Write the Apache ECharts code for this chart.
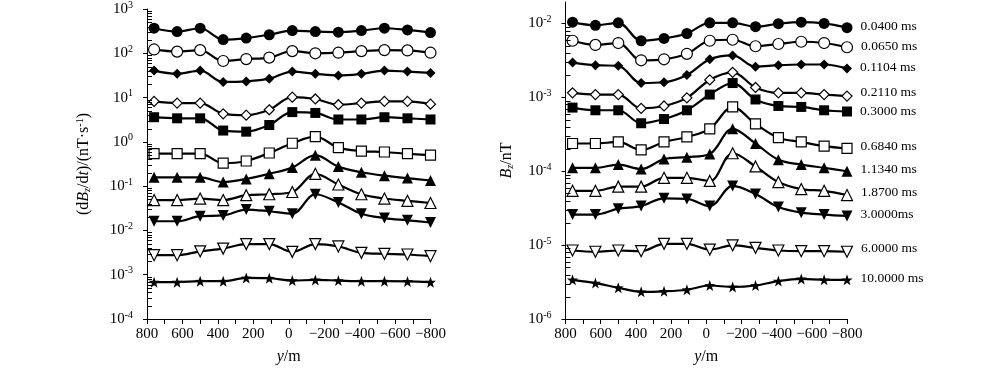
<!DOCTYPE html>
<html>
<head>
<meta charset="utf-8">
<script src="https://cdn.jsdelivr.net/npm/echarts@6/dist/echarts.min.js"></script>
<style>
html,body{margin:0;padding:0;background:#fff;}
#c{width:1000px;height:370px;}
</style>
</head>
<body>
<div id="c"></div>
<script>
// survey positions (m)
const positions = [760, 630, 500, 370, 240, 110, -20, -150, -280, -410, -540, -670, -800];
const timeLabels = ['0.0400 ms','0.0650 ms','0.1104 ms','0.2110 ms','0.3000 ms','0.6840 ms','1.1340 ms','1.8700 ms','3.0000ms','6.0000 ms','10.0000 ms'];

// dBz/dt (nT/s)
const d0400 = [368, 309, 368, 204, 221, 262, 326, 309, 300, 326, 368, 337, 294];
const d0650 = [122, 109, 118, 67, 74, 80, 112, 100, 103, 112, 118, 116, 103];
const d1104 = [40.6, 34.4, 40.6, 22.5, 23.2, 26.7, 38.6, 34.4, 31.5, 34.4, 40.6, 38.6, 36.1];
const d2110 = [8.2, 7.5, 7.5, 4.3, 4.0, 5.3, 10.2, 9.3, 6.9, 7.5, 8.2, 8.2, 7.1];
const d3000 = [3.6, 3.4, 3.4, 1.8, 1.7, 2.4, 4.7, 4.5, 3.2, 3.2, 3.6, 3.4, 3.2];
const d6840 = [0.54, 0.54, 0.54, 0.33, 0.37, 0.56, 0.93, 1.31, 0.74, 0.62, 0.59, 0.54, 0.50];
const d11340 = [0.158, 0.158, 0.158, 0.124, 0.145, 0.19, 0.262, 0.5, 0.276, 0.206, 0.172, 0.152, 0.134];
const d18700 = [0.0484, 0.0484, 0.0525, 0.0484, 0.0624, 0.0656, 0.0738, 0.19, 0.109, 0.0656, 0.0525, 0.0467, 0.0416];
const d30000 = [0.0161, 0.0161, 0.021, 0.0218, 0.0296, 0.0271, 0.0238, 0.0656, 0.0428, 0.0238, 0.019, 0.0169, 0.0151];
const d60000 = [0.00276, 0.00276, 0.00338, 0.00388, 0.00492, 0.00492, 0.00328, 0.00492, 0.00436, 0.00312, 0.00296, 0.00286, 0.00262];
const d100000 = [0.00068, 0.00068, 0.000714, 0.000714, 0.000845, 0.000832, 0.000738, 0.000764, 0.000738, 0.000714, 0.000714, 0.000706, 0.00068];

// Bz (nT)
const b0400 = [0.0104, 0.00942, 0.0102, 0.00583, 0.00627, 0.00731, 0.0102, 0.0102, 0.00904, 0.00991, 0.0104, 0.01, 0.00877];
const b0650 = [0.00583, 0.00512, 0.00543, 0.00317, 0.00327, 0.00388, 0.00583, 0.00601, 0.00491, 0.00527, 0.00565, 0.00543, 0.00476];
const b1104 = [0.00295, 0.00272, 0.00267, 0.00156, 0.0016, 0.002, 0.00327, 0.00369, 0.00259, 0.00272, 0.00278, 0.00278, 0.00246];
const b2110 = [0.00115, 0.00109, 0.00109, 0.00071, 0.000764, 0.000984, 0.00172, 0.00218, 0.00136, 0.00115, 0.00115, 0.00109, 0.00104];
const b3000 = [0.000726, 0.000668, 0.000668, 0.000446, 0.000508, 0.000668, 0.00109, 0.00156, 0.000935, 0.000764, 0.000741, 0.000668, 0.000643];
const b6840 = [0.000237, 0.000237, 0.000249, 0.000194, 0.000249, 0.000291, 0.000375, 0.000741, 0.000437, 0.000284, 0.000249, 0.000219, 0.000204];
const b11340 = [0.000111, 0.000111, 0.000123, 0.000107, 0.000146, 0.000155, 0.000171, 0.000375, 0.000237, 0.000143, 0.000123, 0.000111, 0.0001];
const b18700 = [5.43e-5, 5.43e-5, 6.19e-5, 6.19e-5, 8.15e-5, 8.15e-5, 7.38e-5, 1.75e-4, 1.16e-4, 7.14e-5, 5.73e-5, 5.43e-5, 4.76e-5];
const b30000 = [2.59e-5, 2.59e-5, 3.11e-5, 3.37e-5, 4.3e-5, 4.22e-5, 3.37e-5, 6.32e-5, 4.91e-5, 3.27e-5, 2.75e-5, 2.59e-5, 2.48e-5];
const b60000 = [8.45e-6, 8.13e-6, 8.45e-6, 8.28e-6, 1.04e-5, 1.04e-5, 8.71e-6, 9.93e-6, 9.18e-6, 8.45e-6, 8.28e-6, 8.28e-6, 8.13e-6];
const b100000 = [3.39e-6, 3.06e-6, 2.65e-6, 2.33e-6, 2.37e-6, 2.49e-6, 2.84e-6, 2.71e-6, 2.84e-6, 3.26e-6, 3.49e-6, 3.39e-6, 3.39e-6];

const leftSeries = [d0400, d0650, d1104, d2110, d3000, d6840, d11340, d18700, d30000, d60000, d100000];
const rightSeries = [b0400, b0650, b1104, b2110, b3000, b6840, b11340, b18700, b30000, b60000, b100000];

// styling
const FONT = '"Liberation Serif", "DejaVu Serif", serif';
const STAR = 'path://M0,-10 L2.35,-3.24 L9.51,-3.09 L3.8,1.24 L5.88,8.09 L0,4 L-5.88,8.09 L-3.8,1.24 L-9.51,-3.09 L-2.35,-3.24 Z';
const markers = [
  {symbol: 'circle', size: 11, fill: true, rot: 0},
  {symbol: 'circle', size: 11, fill: false, rot: 0},
  {symbol: 'diamond', size: 10, fill: true, rot: 0},
  {symbol: 'diamond', size: 10, fill: false, rot: 0},
  {symbol: 'rect', size: 10, fill: true, rot: 0},
  {symbol: 'rect', size: 10, fill: false, rot: 0},
  {symbol: 'triangle', size: 11, fill: true, rot: 0},
  {symbol: 'triangle', size: 11, fill: false, rot: 0},
  {symbol: 'triangle', size: 11, fill: true, rot: 180},
  {symbol: 'triangle', size: 11, fill: false, rot: 180},
  {symbol: STAR, size: 11, fill: true, rot: 0}
];
const labelOffsets = [-1, -1, -1, -4, 0, -2, -2, -3, -2, -3, -1];
const yRanges = [[1e-4, 1e3], [1e-6, 0.0195]];

const chart = echarts.init(document.getElementById('c'), null, {renderer: 'canvas'});

const rich = {
  sup: {fontSize: 10, fontFamily: FONT, color: '#000', padding: [0, 0, 8, 0]},
  sub: {fontSize: 10, fontFamily: FONT, color: '#000', fontStyle: 'italic', padding: [7, 0, 0, 0]},
  i: {fontSize: 16, fontFamily: FONT, color: '#000', fontStyle: 'italic'},
  n: {fontSize: 16, fontFamily: FONT, color: '#000'},
  t: {fontSize: 15, fontFamily: FONT, color: '#000'}
};

function logLabel(v) {
  const l = Math.log10(v);
  const e = Math.round(l);
  if (Math.abs(l - e) > 0.01) return '';
  return '{t|10}{sup|' + e + '}';
}

function xAxisOpt(gi) {
  return {
    type: 'value', gridIndex: gi, min: -800, max: 800, interval: 200, inverse: true,
    name: '{i|y}{n|/m}', nameLocation: 'middle', nameGap: 30,
    nameTextStyle: {rich: rich},
    axisLine: {show: true, lineStyle: {color: '#000', width: 1}},
    axisTick: {show: true, length: 5, inside: false, lineStyle: {color: '#000'}},
    minorTick: {show: true, splitNumber: 2, length: 5, lineStyle: {color: '#000'}},
    splitLine: {show: false},
    axisLabel: {color: '#000', fontFamily: FONT, fontSize: 15, margin: 8,
      formatter: v => v < 0 ? '\u2212' + (-v) : String(v)}
  };
}

function yAxisOpt(gi, name, gap) {
  return {
    type: 'log', gridIndex: gi, min: yRanges[gi][0], max: yRanges[gi][1], logBase: 10,
    name: name, nameLocation: 'middle', nameGap: gap, nameRotate: 90,
    nameTextStyle: {rich: rich},
    axisLine: {show: true, onZero: false, lineStyle: {color: '#000', width: 1}},
    axisTick: {show: true, length: 4, inside: false, lineStyle: {color: '#000'}},
    splitLine: {show: false},
    axisLabel: {color: '#000', fontFamily: FONT, fontSize: 15, margin: 14,
      showMaxLabel: gi === 0, formatter: logLabel, rich: rich}
  };
}

// log-spaced minor tick values (2..9 x 10^n) inside the axis range
function minorValues(min, max) {
  const out = [];
  for (let e = Math.floor(Math.log10(min)); e <= Math.ceil(Math.log10(max)); e++) {
    for (let k = 2; k <= 9; k++) {
      const v = k * Math.pow(10, e);
      if (v > min && v < max) out.push(v);
    }
  }
  return out;
}

function makeSeries(arr, gi, withLabel) {
  return arr.map((vals, si) => {
    const m = markers[si];
    const data = positions.map((p, k) => {
      const item = {value: [p, vals[k]]};
      if (withLabel && k === positions.length - 1) {
        item.label = {show: true, position: 'right', distance: 8, formatter: timeLabels[si],
          color: '#000', fontFamily: FONT, fontSize: 13.5, offset: [0, labelOffsets[si]]};
      }
      return item;
    });
    return {
      type: 'line', xAxisIndex: gi, yAxisIndex: gi, name: timeLabels[si],
      data: data,
      smooth: 0.35,
      symbol: m.symbol, symbolSize: m.size, symbolRotate: m.rot, showAllSymbol: true,
      lineStyle: {color: '#000', width: 2.2},
      itemStyle: {color: m.fill ? '#000' : '#fff', borderColor: '#000', borderWidth: m.fill ? 0 : 1.2},
      label: {show: false},
      z: 3, animation: false
    };
  });
}

const option = {
  backgroundColor: '#fff',
  animation: false,
  grid: [
    {left: 147, top: 9, width: 283.5, height: 316},
    {left: 565.5, top: 2, width: 281.5, height: 324}
  ],
  xAxis: [xAxisOpt(0), xAxisOpt(1)],
  yAxis: [
    yAxisOpt(0, '{n|(d}{i|B}{sub|z}{n|/d}{i|t}{n|)/(nT·s}{sup|-1}{n|)}', 54),
    yAxisOpt(1, '{i|B}{sub|z}{n|/nT}', 50)
  ],
  series: makeSeries(leftSeries, 0, false).concat(makeSeries(rightSeries, 1, true))
};
chart.setOption(option);

// inward log minor ticks, placed through the axis scales
const minorGraphics = [];
[0, 1].forEach(gi => {
  minorValues(yRanges[gi][0], yRanges[gi][1]).forEach(v => {
    const p = chart.convertToPixel({xAxisIndex: gi, yAxisIndex: gi}, [800, v]);
    const y = Math.round(p[1]) + 0.5;
    minorGraphics.push({type: 'line', silent: true, z: 5,
      shape: {x1: p[0], y1: y, x2: p[0] + 5, y2: y},
      style: {stroke: '#000', lineWidth: 1}});
  });
});
chart.setOption({graphic: {elements: minorGraphics}});
</script>
</body>
</html>
